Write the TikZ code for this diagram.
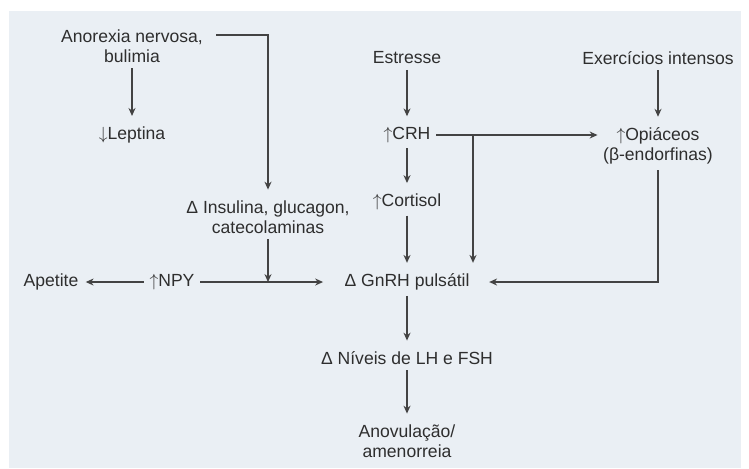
\documentclass[tikz,border=0pt]{standalone}
\usepackage{fontspec}
\setmainfont{Liberation Sans}
\usetikzlibrary{arrows.meta}
\definecolor{panel}{HTML}{EAEFF4}
\definecolor{ink}{HTML}{2E2E2E}
\newcommand{\up}{$\uparrow$}
\newcommand{\down}{$\downarrow$}

\begin{document}
\begin{tikzpicture}[x=0.02cm,y=-0.02cm,>={Stealth[length=4.5pt,width=4pt]},
  every node/.style={text=ink,font=\fontsize{10}{11.5}\selectfont,align=center,inner sep=3pt},
  link/.style={draw=ink!90,line width=0.7pt,->,shorten >=3pt}]

  \useasboundingbox (0,0) rectangle (749,468);
  \fill[panel] (9,11) rectangle (741,468);

  % causes
  \node (anorexia) at (132,46) {Anorexia nervosa,\\bulimia};
  \node (estresse) at (407,58) {Estresse};
  \node (exercicio) at (658,58) {Exercícios intensos};

  % hormones
  \node (leptina) at (132,135) {\down Leptina};
  \node (crh) at (407,135) {\up CRH};
  \node (opiaceos) at (658,146) {\up Opiáceos\\(β-endorfinas)};
  \node (cortisol) at (407,202) {\up Cortisol};
  \node (insulina) at (268,217) {Δ Insulina, glucagon,\\catecolaminas};
  \node (apetite) at (51,282) {Apetite};
  \node (npy) at (172,282) {\up NPY};
  \node[inner xsep=11pt] (gnrh) at (407,282) {Δ GnRH pulsátil};
  \node (niveis) at (407,358) {Δ Níveis de LH e FSH};
  \node (anov) at (407,441) {Anovulação/\\amenorreia};

  \coordinate (jnpy) at (insulina |- npy);
  \coordinate (jcrh) at (473,135);

  \draw[link] (anorexia) -- (leptina);
  \draw[link] ([shift={(8,-11)}]anorexia.east) -| (insulina.north);
  \draw[link,shorten >=0pt] (insulina) -- (jnpy);
  \draw[link,shorten >=1pt] (npy) -- (gnrh);
  \draw[link,shorten >=1pt] (npy) -- (apetite);

  \draw[link] (estresse) -- (crh);
  \draw[link] (crh) -- (cortisol);
  \draw[link] (cortisol) -- (cortisol |- gnrh.north);
  \draw[link,shorten >=0pt] (crh) -- (crh -| opiaceos.west);
  \draw[link] (jcrh) -- (jcrh |- gnrh.north);
  \draw[link] (gnrh) -- (niveis);
  \draw[link] (niveis) -- (anov);

  \draw[link] (exercicio) -- (opiaceos);
  \draw[link,shorten >=0pt] (opiaceos.south) |- (gnrh.east);
\end{tikzpicture}
\end{document}
